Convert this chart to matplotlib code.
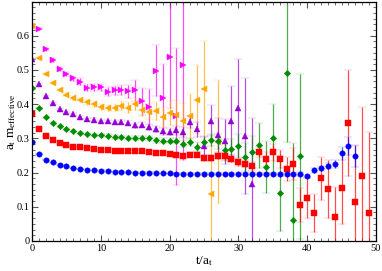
import matplotlib
matplotlib.use("Agg")
import matplotlib.pyplot as plt
from matplotlib.ticker import MultipleLocator, FixedLocator
import numpy as np

plt.rcParams["font.family"] = ["Liberation Serif", "DejaVu Serif"]
plt.rcParams["mathtext.fontset"] = "custom"
plt.rcParams["mathtext.rm"] = "Liberation Serif"
plt.rcParams["mathtext.it"] = "Liberation Serif"

# effective masses, one list per operator set
blue_val = [0.288, 0.254, 0.238, 0.230, 0.223, 0.218, 0.213, 0.210, 0.208, 0.206,
            0.205, 0.204, 0.203, 0.202, 0.201, 0.200, 0.200, 0.199, 0.199, 0.198,
            0.198, 0.197, 0.197, 0.197, 0.197, 0.196, 0.196, 0.196, 0.196, 0.196,
            0.196, 0.196, 0.196, 0.196, 0.196, 0.196, 0.195, 0.195, 0.196, 0.196,
            0.189, 0.206, 0.212, 0.219, 0.225, 0.256, 0.278, 0.249]
blue_err = [0.001, 0.001, 0.001, 0.001, 0.001, 0.001, 0.001, 0.001, 0.001, 0.001,
            0.002, 0.002, 0.002, 0.002, 0.002, 0.002, 0.002, 0.002, 0.002, 0.002,
            0.002, 0.003, 0.003, 0.003, 0.003, 0.003, 0.003, 0.003, 0.003, 0.003,
            0.003, 0.003, 0.003, 0.003, 0.003, 0.004, 0.004, 0.004, 0.004, 0.005,
            0.005, 0.006, 0.008, 0.010, 0.012, 0.020, 0.027, 0.032]

red_val = [0.372, 0.328, 0.308, 0.294, 0.286, 0.280, 0.276, 0.274, 0.271, 0.268,
           0.266, 0.265, 0.264, 0.263, 0.262, 0.262, 0.262, 0.259, 0.257, 0.256,
           0.254, 0.252, 0.249, 0.252, 0.252, 0.243, 0.243, 0.249, 0.247, 0.240,
           0.230, 0.226, 0.218, 0.259, 0.240, 0.259, 0.240, 0.210, 0.225, 0.104,
           0.126, 0.082, 0.183, 0.152, 0.071, 0.154, 0.345, 0.115, 0.189, 0.082]
red_err = [0.002, 0.002, 0.002, 0.002, 0.002, 0.003, 0.003, 0.003, 0.003, 0.004,
           0.004, 0.004, 0.005, 0.005, 0.005, 0.005, 0.005, 0.005, 0.005, 0.005,
           0.005, 0.006, 0.006, 0.007, 0.007, 0.008, 0.008, 0.009, 0.009, 0.010,
           0.010, 0.011, 0.013, 0.015, 0.020, 0.025, 0.027, 0.034, 0.046, 0.050,
           0.058, 0.055, 0.062, 0.085, 0.087, 0.104, 0.155, 0.164, 0.204, 0.236]

green_val = [0.447, 0.388, 0.361, 0.346, 0.336, 0.328, 0.321, 0.316, 0.313, 0.310,
             0.309, 0.308, 0.304, 0.303, 0.302, 0.302, 0.300, 0.300, 0.294, 0.293,
             0.293, 0.293, 0.284, 0.289, 0.276, 0.290, 0.296, 0.291, 0.265, 0.269,
             0.278, 0.245, 0.259, 0.280, 0.216, 0.300, 0.140, 0.490, 0.061, 0.247]
green_err = [0.002, 0.002, 0.002, 0.002, 0.003, 0.003, 0.003, 0.003, 0.004, 0.004,
             0.004, 0.005, 0.005, 0.005, 0.006, 0.006, 0.006, 0.007, 0.008, 0.008,
             0.008, 0.008, 0.010, 0.012, 0.013, 0.015, 0.018, 0.022, 0.032, 0.030,
             0.035, 0.040, 0.047, 0.066, 0.075, 0.100, 0.110, 0.200, 0.225, 0.240]

purple_val = [0.533, 0.459, 0.424, 0.403, 0.387, 0.378, 0.370, 0.362, 0.356, 0.355,
              0.351, 0.350, 0.347, 0.348, 0.346, 0.338, 0.340, 0.332, 0.328, 0.320,
              0.319, 0.323, 0.318, 0.347, 0.327, 0.278, 0.352, 0.310, 0.291, 0.352,
              0.388, 0.306, 0.165]
purple_err = [0.002, 0.002, 0.002, 0.003, 0.003, 0.003, 0.003, 0.004, 0.004, 0.004,
              0.004, 0.005, 0.005, 0.006, 0.006, 0.007, 0.007, 0.008, 0.009, 0.010,
              0.010, 0.012, 0.015, 0.018, 0.022, 0.030, 0.046, 0.050, 0.065, 0.100,
              0.143, 0.170, 0.194]

orange_val = [0.629, 0.534, 0.488, 0.463, 0.442, 0.428, 0.418, 0.411, 0.405, 0.401,
              0.392, 0.389, 0.390, 0.396, 0.390, 0.400, 0.383, 0.378, 0.380, 0.362,
              0.373, 0.368, 0.352, 0.364, 0.413, 0.444, 0.138, 0.290]
orange_err = [0.003, 0.003, 0.004, 0.004, 0.005, 0.005, 0.005, 0.006, 0.007, 0.008,
              0.008, 0.009, 0.010, 0.012, 0.016, 0.018, 0.018, 0.022, 0.025, 0.030,
              0.035, 0.045, 0.050, 0.065, 0.100, 0.140, 0.172, 0.180]

magenta_val = [0.620, 0.560, 0.529, 0.504, 0.488, 0.475, 0.466, 0.448, 0.449, 0.449,
               0.436, 0.440, 0.442, 0.437, 0.440, 0.408, 0.393, 0.498, 0.417, 0.539,
               0.364, 0.513]
magenta_err = [0.004, 0.005, 0.006, 0.006, 0.007, 0.008, 0.009, 0.010, 0.010, 0.011,
               0.013, 0.013, 0.015, 0.020, 0.030, 0.040, 0.050, 0.075, 0.100, 0.150,
               0.200, 0.275]

series = [
    # (values, errors, first t, colour, marker)
    (magenta_val, magenta_err, 1, "#ff00ff", ">"),
    (orange_val, orange_err, 0, "#ffa500", "<"),
    (purple_val, purple_err, 0, "#9400d3", "^"),
    (green_val, green_err, 0, "#008b00", "D"),
    (red_val, red_err, 0, "#ff0000", "s"),
    (blue_val, blue_err, 0, "#0000ff", "o"),
]

fig = plt.figure(figsize=(3.82, 2.71), dpi=100)
ax = fig.add_axes([0.084, 0.111, 0.900, 0.882])

for val, err, t0, col, mk in series:
    t = np.arange(t0, t0 + len(val))
    ms = 3.3 if mk == "D" else 3.9
    line, caps, bars = ax.errorbar(t, val, yerr=err, fmt=mk, color=col, ms=ms,
                                   mec=col, mew=0.3, elinewidth=0.9, capsize=3,
                                   capthick=1.2, ecolor=col)
    for c in caps:
        c.set_alpha(0.45)
    for b in bars:
        b.set_alpha(0.7)

ax.set_xlim(0, 50)
ax.set_ylim(0, 0.699)
ax.xaxis.set_major_locator(MultipleLocator(10))
ax.xaxis.set_minor_locator(MultipleLocator(1))
ax.yaxis.set_major_locator(FixedLocator([0, 0.1, 0.2, 0.3, 0.4, 0.5, 0.6]))
ax.yaxis.set_minor_locator(MultipleLocator(0.1 / 6))
ax.set_yticklabels(["0", "0.1", "0.2", "0.3", "0.4", "0.5", "0.6"])
ax.tick_params(which="both", direction="in", top=True, right=True,
               labelsize=7.5, color="#555555", pad=2)
ax.tick_params(which="major", length=4, width=0.8)
ax.tick_params(which="minor", length=2, width=0.6)
for s in ax.spines.values():
    s.set_linewidth(0.9)

ax.set_xlabel("t/a$_{\\mathrm{t}}$", fontsize=9.5, labelpad=1)
ax.set_ylabel("a$_{\\mathrm{t}}$ m$_{\\mathrm{effective}}$", fontsize=9.5, labelpad=-1)

fig.savefig("out.png", dpi=100)
